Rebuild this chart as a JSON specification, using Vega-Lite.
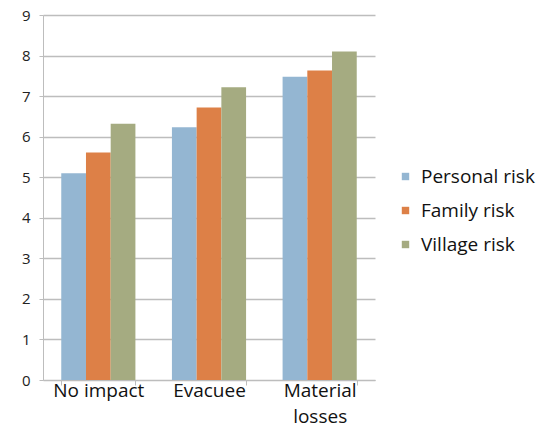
{
  "$schema": "https://vega.github.io/schema/vega-lite/v6.json",
  "width": 332,
  "height": 365,
  "autosize": "none",
  "padding": {"left": 43, "top": 15, "right": 176, "bottom": 49},
  "background": "white",
  "config": {"view": {"stroke": null}, "font": "Open Sans"},
  "data": {"values": [
    {"impact": "No impact", "risk": "Personal risk", "value": 5.1},
    {"impact": "No impact", "risk": "Family risk", "value": 5.61},
    {"impact": "No impact", "risk": "Village risk", "value": 6.32},
    {"impact": "Evacuee", "risk": "Personal risk", "value": 6.23},
    {"impact": "Evacuee", "risk": "Family risk", "value": 6.72},
    {"impact": "Evacuee", "risk": "Village risk", "value": 7.22},
    {"impact": "Material losses", "risk": "Personal risk", "value": 7.48},
    {"impact": "Material losses", "risk": "Family risk", "value": 7.63},
    {"impact": "Material losses", "risk": "Village risk", "value": 8.1}
  ]},
  "mark": {"type": "bar"},
  "encoding": {
    "x": {
      "field": "impact", "type": "nominal", "sort": ["No impact", "Evacuee", "Material losses"],
      "scale": {"paddingInner": 0.33, "paddingOuter": 0.165},
      "axis": {
        "title": null, "labelAngle": 0, "labelFontSize": 19, "labelColor": "#111111",
        "labelFont": "Open Sans",
        "labelExpr": "datum.label == 'Material losses' ? ['Material', 'losses'] : datum.label",
        "labelLineHeight": 26, "labelPadding": -4,
        "tickBand": "extent", "tickSize": 5, "tickColor": "#BDBDBD", "domainColor": "#BDBDBD",
        "grid": false
      }
    },
    "xOffset": {"field": "risk", "type": "nominal", "sort": ["Personal risk", "Family risk", "Village risk"], "scale": {"paddingInner": 0, "paddingOuter": 0}},
    "y": {
      "field": "value", "type": "quantitative",
      "scale": {"domain": [0, 9], "nice": false},
      "axis": {
        "title": null, "values": [0,1,2,3,4,5,6,7,8,9], "labelFontSize": 15, "labelColor": "#222222",
        "labelPadding": 9, "tickSize": 4, "tickColor": "#BDBDBD", "domainColor": "#BDBDBD",
        "gridColor": "#BDBDBD", "gridWidth": 1.3
      }
    },
    "color": {
      "field": "risk", "type": "nominal", "sort": ["Personal risk", "Family risk", "Village risk"],
      "scale": {"domain": ["Personal risk", "Family risk", "Village risk"], "range": ["#94B6D2", "#DD8047", "#A5AB81"]},
      "legend": {
        "title": null, "orient": "none", "legendX": 353, "legendY": 152,
        "symbolType": "square", "symbolSize": 55, "labelFontSize": 19, "labelColor": "#111111",
        "rowPadding": 14, "labelOffset": 6
      }
    }
  }
}
